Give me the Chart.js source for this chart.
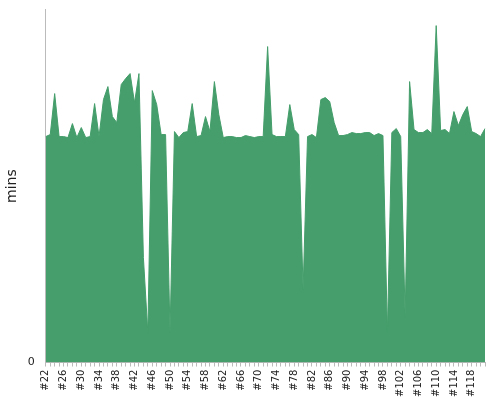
<!DOCTYPE html>
<html>
<head>
<meta charset="utf-8">
<script src="https://cdn.jsdelivr.net/npm/chart.js@4/dist/chart.umd.min.js"></script>
<style>
    html, body { margin: 0; padding: 0; background: #fff; }
    #wrap { width: 500px; height: 400px; }
</style>
</head>
<body>
<div id="wrap"><canvas id="chart"></canvas></div>
<script>
// build numbers #22 .. #121
const builds = [];
for (let n = 22; n <= 121; n++) builds.push("#" + n);

// build duration (mins)
const durations = [
    226, 228, 269, 226, 226, 225, 239, 225, 235, 225,
    226, 259, 226, 263, 276, 246, 240, 278, 284, 289,
    260, 289, 105, 30, 272, 258, 228, 228, 30, 231,
    225, 230, 231, 259, 226, 227, 246, 231, 281, 248,
    225, 226, 226, 225, 225, 227, 226, 225, 226, 226,
    316, 228, 226, 226, 226, 258, 233, 228, 73, 226,
    228, 225, 263, 265, 261, 240, 227, 227, 228, 230,
    229, 229, 230, 230, 227, 229, 227, 30, 230, 234,
    226, 46, 281, 233, 230, 230, 233, 229, 337, 232,
    233, 229, 251, 237, 248, 256, 231, 229, 226, 234
];

const yTicks = [0];

new Chart(document.getElementById("chart"), {
    type: "line",
    data: {
        labels: builds,
        datasets: [{
            data: durations,
            fill: "origin",
            backgroundColor: "#459e6b",
            borderColor: "#459e6b",
            borderWidth: 1,
            pointRadius: 0,
            tension: 0
        }]
    },
    options: {
        responsive: true,
        maintainAspectRatio: false,
        animation: false,
        layout: { padding: { top: 5, right: 8 } },
        plugins: {
            legend: { display: false },
            tooltip: { enabled: false }
        },
        scales: {
            x: {
                offset: false,
                grid: { drawOnChartArea: false, tickLength: 4, color: "#bbb" },
                border: { color: "#bbb" },
                ticks: {
                    autoSkip: false,
                    maxRotation: 90,
                    minRotation: 90,
                    color: "#222",
                    font: { family: "DejaVu Sans", size: 10 },
                    callback: (v, i) => (i % 4 === 0 ? builds[i] : "")
                }
            },
            y: {
                min: 0,
                max: 353,
                afterBuildTicks: axis => {
                    axis.ticks = yTicks.map(v => ({ value: v }));
                },
                grid: { display: false },
                border: { color: "#bbb" },
                ticks: {
                    color: "#222",
                    font: { family: "DejaVu Sans", size: 11 }
                },
                title: {
                    display: true,
                    text: "mins",
                    color: "#222",
                    font: { family: "DejaVu Sans", size: 14 }
                }
            }
        }
    }
});
</script>
</body>
</html>
